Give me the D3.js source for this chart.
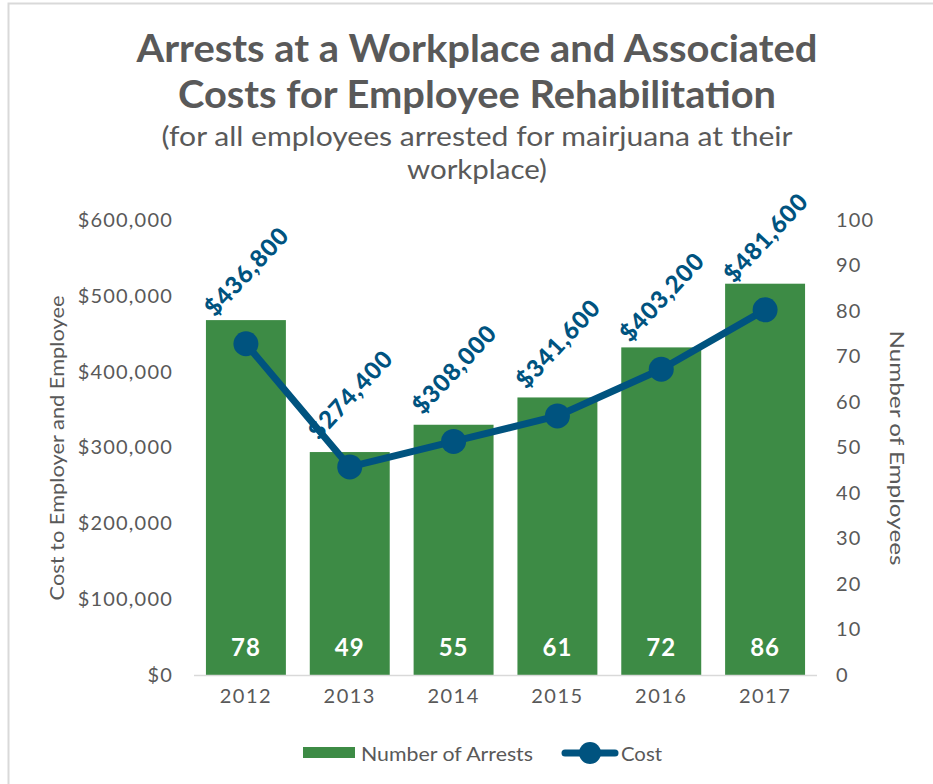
<!DOCTYPE html>
<html>
<head>
<meta charset="utf-8">
<script src="https://cdn.jsdelivr.net/npm/d3@7"></script>
<style>
  html, body { margin: 0; padding: 0; background: #fff; }
  svg { display: block; }
</style>
</head>
<body>
<svg id="chart" width="933" height="784"></svg>
<script>
const years = ["2012", "2013", "2014", "2015", "2016", "2017"];
const arrests = [78, 49, 55, 61, 72, 86];
const costs = [436800, 274400, 308000, 341600, 403200, 481600];
const leftTicks = [0, 100000, 200000, 300000, 400000, 500000, 600000];
const rightTicks = [0, 10, 20, 30, 40, 50, 60, 70, 80, 90, 100];
const titleLines = ["Arrests at a Workplace and Associated", "Costs for Employee Rehabilitation"];
const subtitleLines = ["(for all employees arrested for mairjuana at their", "workplace)"];

const GREEN = "#3D8B45", BLUE = "#00537F", GRAY = "#595959";
const FONT = "Lato, 'Open Sans', sans-serif";
const svg = d3.select("#chart");

// outer border
svg.append("rect").attr("x", 8.5).attr("y", 3.5).attr("width", 1000).attr("height", 900)
  .attr("fill", "none").attr("stroke", "#D9D9D9").attr("stroke-width", 2);

const x = d3.scaleBand().domain(years).range([194, 817]).paddingInner(0.23).paddingOuter(0.115);
const yL = d3.scaleLinear().domain([0, 600000]).range([675, 220]);
const yR = d3.scaleLinear().domain([0, 100]).range([675, 220]);

// titles
const tW = [681, 598];
titleLines.forEach((t, i) => {
  svg.append("text").attr("x", 477).attr("y", 62 + i * 46).attr("text-anchor", "middle")
    .attr("font-family", "'Liberation Sans Narrow', 'Arial Narrow', " + FONT).attr("font-weight", "bold")
    .attr("font-size", 38).attr("fill", GRAY)
    .attr("textLength", tW[i]).attr("lengthAdjust", "spacingAndGlyphs").text(t);
});
const sW = [631, 140];
subtitleLines.forEach((t, i) => {
  svg.append("text").attr("x", 477).attr("y", 146 + i * 33).attr("text-anchor", "middle")
    .attr("font-family", FONT).attr("font-size", 26).attr("fill", GRAY)
    .attr("textLength", sW[i]).attr("lengthAdjust", "spacingAndGlyphs").text(t);
});

// left axis
const fmt = d => "$" + d3.format(",")(d);
const gL = svg.append("g").attr("transform", "translate(173,0)")
  .call(d3.axisLeft(yL).tickValues(leftTicks).tickFormat(fmt).tickSize(0).tickPadding(0));
gL.select(".domain").remove();
gL.selectAll("text").attr("font-family", FONT).attr("font-size", 20).attr("letter-spacing", 1.2).attr("fill", GRAY);

// right axis
const gR = svg.append("g").attr("transform", "translate(836,0)")
  .call(d3.axisRight(yR).tickValues(rightTicks).tickSize(0).tickPadding(0));
gR.select(".domain").remove();
gR.selectAll("text").attr("font-family", FONT).attr("font-size", 20).attr("letter-spacing", 1.2).attr("fill", GRAY);

// axis titles
svg.append("text").attr("transform", "translate(64,448) rotate(-90)").attr("text-anchor", "middle")
  .attr("font-family", FONT).attr("font-size", 20).attr("fill", GRAY)
  .attr("textLength", 305).attr("lengthAdjust", "spacingAndGlyphs").text("Cost to Employer and Employee");
svg.append("text").attr("transform", "translate(890,448) rotate(90)").attr("text-anchor", "middle")
  .attr("font-family", FONT).attr("font-size", 20).attr("fill", GRAY)
  .attr("textLength", 235).attr("lengthAdjust", "spacingAndGlyphs").text("Number of Employees");

// bars
svg.append("g").selectAll("rect").data(years).join("rect")
  .attr("x", d => x(d)).attr("width", x.bandwidth())
  .attr("y", (d, i) => yR(arrests[i])).attr("height", (d, i) => yR(0) - yR(arrests[i]))
  .attr("fill", GREEN);

// bar labels
svg.append("g").selectAll("text").data(years).join("text")
  .attr("x", d => x(d) + x.bandwidth() / 2).attr("y", 656).attr("text-anchor", "middle")
  .attr("font-family", FONT).attr("font-weight", "bold").attr("font-size", 24).attr("letter-spacing", 1).attr("fill", "#fff")
  .text((d, i) => arrests[i]);

// baseline
svg.append("line").attr("x1", 194).attr("x2", 817).attr("y1", yL(0) + 0.5).attr("y2", yL(0) + 0.5)
  .attr("stroke", "#D9D9D9").attr("stroke-width", 1.5);

// x axis labels
const gX = svg.append("g").attr("transform", "translate(0,689)")
  .call(d3.axisBottom(x).tickSize(0).tickPadding(0));
gX.select(".domain").remove();
gX.selectAll("text").attr("font-family", FONT).attr("font-size", 20).attr("letter-spacing", 1.5).attr("fill", GRAY);

// line
const cx = d => x(d) + x.bandwidth() / 2;
const line = d3.line().x(d => cx(d)).y((d, i) => yL(costs[i]));
svg.append("path").datum(years).attr("d", line).attr("fill", "none")
  .attr("stroke", BLUE).attr("stroke-width", 7).attr("stroke-linejoin", "round").attr("stroke-linecap", "round");
svg.append("g").selectAll("circle").data(years).join("circle")
  .attr("cx", d => cx(d)).attr("cy", (d, i) => yL(costs[i])).attr("r", 12.5).attr("fill", BLUE);

// line labels
svg.append("g").selectAll("text").data(years).join("text")
  .attr("transform", (d, i) => `translate(${cx(d)},${yL(costs[i]) - 73}) rotate(-47)`)
  .attr("text-anchor", "middle").attr("dominant-baseline", "central")
  .attr("font-family", FONT).attr("font-weight", "900").attr("font-size", 24).attr("letter-spacing", 1).attr("fill", BLUE)
  .text((d, i) => fmt(costs[i]));

// legend
const lg = svg.append("g");
lg.append("rect").attr("x", 303).attr("y", 747).attr("width", 52).attr("height", 11).attr("fill", GREEN);
lg.append("text").attr("x", 361).attr("y", 753).attr("dominant-baseline", "central")
  .attr("font-family", FONT).attr("font-size", 20).attr("fill", GRAY)
  .attr("textLength", 172).attr("lengthAdjust", "spacingAndGlyphs").text("Number of Arrests");
lg.append("line").attr("x1", 565).attr("x2", 615).attr("y1", 753).attr("y2", 753)
  .attr("stroke", BLUE).attr("stroke-width", 7).attr("stroke-linecap", "round");
lg.append("circle").attr("cx", 590).attr("cy", 753).attr("r", 11).attr("fill", BLUE);
lg.append("text").attr("x", 621).attr("y", 753).attr("dominant-baseline", "central")
  .attr("font-family", FONT).attr("font-size", 20).attr("fill", GRAY)
  .attr("textLength", 41).attr("lengthAdjust", "spacingAndGlyphs").text("Cost");
</script>
</body>
</html>
